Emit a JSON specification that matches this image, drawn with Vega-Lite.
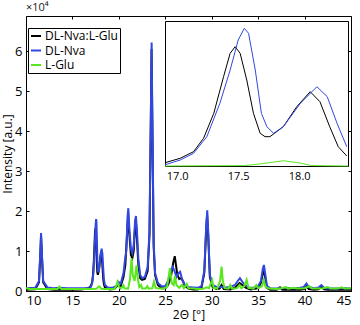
{
"$schema":"https://vega.github.io/schema/vega-lite/v6.json",
"width":325,"height":275,
"autosize":{"type":"none"},
"padding":{"left":26,"top":16,"right":9,"bottom":34},
"title":{"text":"×10⁴","anchor":"start","frame":"group","fontSize":11,"fontWeight":"normal","offset":3,"font":"Open Sans","color":"#222"},
"config":{"view":{"stroke":null},"axis":{"grid":false,"domainColor":"black","tickColor":"black","labelColor":"black","titleColor":"black","labelFont":"Open Sans","titleFont":"Open Sans","labelFontSize":13,"titleFontSize":12,"titleFontWeight":"normal","domainWidth":1,"tickWidth":1},"legend":{"labelFont":"Open Sans"}},
"data":{"values":[
{"s":"DL-Nva:L-Glu","x":10.0,"y":300},{"s":"DL-Nva:L-Glu","x":11.0,"y":400},{"s":"DL-Nva:L-Glu","x":11.4,"y":2200},{"s":"DL-Nva:L-Glu","x":11.55,"y":9500},{"s":"DL-Nva:L-Glu","x":11.62,"y":13800},{"s":"DL-Nva:L-Glu","x":11.7,"y":9500},{"s":"DL-Nva:L-Glu","x":11.85,"y":2200},{"s":"DL-Nva:L-Glu","x":12.3,"y":500},{"s":"DL-Nva:L-Glu","x":13.0,"y":300},{"s":"DL-Nva:L-Glu","x":14.0,"y":300},{"s":"DL-Nva:L-Glu","x":15.0,"y":300},{"s":"DL-Nva:L-Glu","x":16.0,"y":400},{"s":"DL-Nva:L-Glu","x":16.5,"y":600},
{"s":"DL-Nva:L-Glu","x":16.9,"y":920},{"s":"DL-Nva:L-Glu","x":17.025,"y":1480},{"s":"DL-Nva:L-Glu","x":17.134,"y":2315},{"s":"DL-Nva:L-Glu","x":17.216,"y":4015},{"s":"DL-Nva:L-Glu","x":17.3,"y":7190},{"s":"DL-Nva:L-Glu","x":17.38,"y":11830},{"s":"DL-Nva:L-Glu","x":17.434,"y":14800},{"s":"DL-Nva:L-Glu","x":17.475,"y":15640},{"s":"DL-Nva:L-Glu","x":17.516,"y":14800},{"s":"DL-Nva:L-Glu","x":17.57,"y":11414},{"s":"DL-Nva:L-Glu","x":17.625,"y":7190},{"s":"DL-Nva:L-Glu","x":17.68,"y":4650},{"s":"DL-Nva:L-Glu","x":17.72,"y":4220},{"s":"DL-Nva:L-Glu","x":17.76,"y":4220},{"s":"DL-Nva:L-Glu","x":17.87,"y":5490},{"s":"DL-Nva:L-Glu","x":17.98,"y":8025},{"s":"DL-Nva:L-Glu","x":18.09,"y":9930},{"s":"DL-Nva:L-Glu","x":18.17,"y":8660},{"s":"DL-Nva:L-Glu","x":18.25,"y":5490},{"s":"DL-Nva:L-Glu","x":18.32,"y":2950},{"s":"DL-Nva:L-Glu","x":18.39,"y":1770},
{"s":"DL-Nva:L-Glu","x":18.5,"y":900},{"s":"DL-Nva:L-Glu","x":19.0,"y":400},{"s":"DL-Nva:L-Glu","x":19.5,"y":500},{"s":"DL-Nva:L-Glu","x":19.9,"y":1500},{"s":"DL-Nva:L-Glu","x":20.2,"y":1200},{"s":"DL-Nva:L-Glu","x":20.5,"y":3500},{"s":"DL-Nva:L-Glu","x":20.7,"y":6500},{"s":"DL-Nva:L-Glu","x":20.9,"y":15000},{"s":"DL-Nva:L-Glu","x":21.0,"y":19500},{"s":"DL-Nva:L-Glu","x":21.1,"y":15000},{"s":"DL-Nva:L-Glu","x":21.3,"y":9000},{"s":"DL-Nva:L-Glu","x":21.45,"y":8200},{"s":"DL-Nva:L-Glu","x":21.6,"y":10000},{"s":"DL-Nva:L-Glu","x":21.75,"y":16500},{"s":"DL-Nva:L-Glu","x":21.82,"y":18000},{"s":"DL-Nva:L-Glu","x":21.95,"y":13000},{"s":"DL-Nva:L-Glu","x":22.1,"y":6500},{"s":"DL-Nva:L-Glu","x":22.3,"y":3200},{"s":"DL-Nva:L-Glu","x":22.5,"y":2800},{"s":"DL-Nva:L-Glu","x":22.8,"y":3000},{"s":"DL-Nva:L-Glu","x":23.1,"y":5000},{"s":"DL-Nva:L-Glu","x":23.3,"y":14000},{"s":"DL-Nva:L-Glu","x":23.45,"y":44000},{"s":"DL-Nva:L-Glu","x":23.52,"y":60500},{"s":"DL-Nva:L-Glu","x":23.6,"y":43000},{"s":"DL-Nva:L-Glu","x":23.75,"y":11000},{"s":"DL-Nva:L-Glu","x":23.9,"y":4000},{"s":"DL-Nva:L-Glu","x":24.2,"y":1500},{"s":"DL-Nva:L-Glu","x":24.6,"y":700},{"s":"DL-Nva:L-Glu","x":25.0,"y":700},{"s":"DL-Nva:L-Glu","x":25.3,"y":1500},{"s":"DL-Nva:L-Glu","x":25.6,"y":3500},{"s":"DL-Nva:L-Glu","x":25.85,"y":7000},{"s":"DL-Nva:L-Glu","x":26.02,"y":8700},{"s":"DL-Nva:L-Glu","x":26.15,"y":6500},{"s":"DL-Nva:L-Glu","x":26.3,"y":4000},{"s":"DL-Nva:L-Glu","x":26.5,"y":3000},{"s":"DL-Nva:L-Glu","x":26.7,"y":3200},{"s":"DL-Nva:L-Glu","x":26.9,"y":2500},{"s":"DL-Nva:L-Glu","x":27.1,"y":1300},{"s":"DL-Nva:L-Glu","x":27.5,"y":600},{"s":"DL-Nva:L-Glu","x":28.0,"y":400},{"s":"DL-Nva:L-Glu","x":28.5,"y":400},{"s":"DL-Nva:L-Glu","x":28.9,"y":800},{"s":"DL-Nva:L-Glu","x":29.2,"y":4500},{"s":"DL-Nva:L-Glu","x":29.4,"y":15000},{"s":"DL-Nva:L-Glu","x":29.5,"y":19000},{"s":"DL-Nva:L-Glu","x":29.62,"y":14000},{"s":"DL-Nva:L-Glu","x":29.8,"y":3500},{"s":"DL-Nva:L-Glu","x":30.1,"y":1000},{"s":"DL-Nva:L-Glu","x":30.5,"y":500},{"s":"DL-Nva:L-Glu","x":30.85,"y":600},{"s":"DL-Nva:L-Glu","x":31.05,"y":1500},{"s":"DL-Nva:L-Glu","x":31.3,"y":500},{"s":"DL-Nva:L-Glu","x":32.0,"y":400},{"s":"DL-Nva:L-Glu","x":32.5,"y":800},{"s":"DL-Nva:L-Glu","x":33.0,"y":2000},{"s":"DL-Nva:L-Glu","x":33.3,"y":1500},{"s":"DL-Nva:L-Glu","x":33.7,"y":800},{"s":"DL-Nva:L-Glu","x":34.2,"y":400},{"s":"DL-Nva:L-Glu","x":35.0,"y":700},{"s":"DL-Nva:L-Glu","x":35.3,"y":2000},{"s":"DL-Nva:L-Glu","x":35.5,"y":4500},{"s":"DL-Nva:L-Glu","x":35.6,"y":5200},{"s":"DL-Nva:L-Glu","x":35.75,"y":3500},{"s":"DL-Nva:L-Glu","x":35.95,"y":800},{"s":"DL-Nva:L-Glu","x":36.3,"y":300},{"s":"DL-Nva:L-Glu","x":37.0,"y":300},{"s":"DL-Nva:L-Glu","x":37.35,"y":900},{"s":"DL-Nva:L-Glu","x":37.6,"y":300},{"s":"DL-Nva:L-Glu","x":38.5,"y":300},{"s":"DL-Nva:L-Glu","x":39.5,"y":300},{"s":"DL-Nva:L-Glu","x":40.0,"y":500},{"s":"DL-Nva:L-Glu","x":40.2,"y":1200},{"s":"DL-Nva:L-Glu","x":40.45,"y":500},{"s":"DL-Nva:L-Glu","x":41.0,"y":300},{"s":"DL-Nva:L-Glu","x":41.5,"y":400},{"s":"DL-Nva:L-Glu","x":41.8,"y":1100},{"s":"DL-Nva:L-Glu","x":42.1,"y":400},{"s":"DL-Nva:L-Glu","x":42.5,"y":300},{"s":"DL-Nva:L-Glu","x":44.0,"y":300},{"s":"DL-Nva:L-Glu","x":45.0,"y":300},
{"s":"DL-Nva","x":10.0,"y":700},{"s":"DL-Nva","x":11.0,"y":800},{"s":"DL-Nva","x":11.4,"y":2500},{"s":"DL-Nva","x":11.55,"y":10000},{"s":"DL-Nva","x":11.62,"y":14500},{"s":"DL-Nva","x":11.7,"y":10000},{"s":"DL-Nva","x":11.85,"y":2500},{"s":"DL-Nva","x":12.3,"y":900},{"s":"DL-Nva","x":13.0,"y":700},{"s":"DL-Nva","x":13.6,"y":800},{"s":"DL-Nva","x":14.5,"y":700},{"s":"DL-Nva","x":15.5,"y":700},{"s":"DL-Nva","x":16.3,"y":700},
{"s":"DL-Nva","x":16.9,"y":660},{"s":"DL-Nva","x":17.025,"y":1260},{"s":"DL-Nva","x":17.134,"y":2110},{"s":"DL-Nva","x":17.243,"y":4220},{"s":"DL-Nva","x":17.35,"y":8460},{"s":"DL-Nva","x":17.434,"y":12680},{"s":"DL-Nva","x":17.5,"y":16490},{"s":"DL-Nva","x":17.55,"y":17970},{"s":"DL-Nva","x":17.585,"y":17340},{"s":"DL-Nva","x":17.64,"y":12680},{"s":"DL-Nva","x":17.69,"y":7190},{"s":"DL-Nva","x":17.735,"y":5490},{"s":"DL-Nva","x":17.79,"y":4650},{"s":"DL-Nva","x":17.87,"y":5490},{"s":"DL-Nva","x":18.01,"y":8460},{"s":"DL-Nva","x":18.145,"y":10560},{"s":"DL-Nva","x":18.23,"y":9290},{"s":"DL-Nva","x":18.31,"y":5920},{"s":"DL-Nva","x":18.39,"y":2950},
{"s":"DL-Nva","x":18.5,"y":1500},{"s":"DL-Nva","x":18.8,"y":900},{"s":"DL-Nva","x":19.3,"y":800},{"s":"DL-Nva","x":19.7,"y":1200},{"s":"DL-Nva","x":19.94,"y":2300},{"s":"DL-Nva","x":20.2,"y":1800},{"s":"DL-Nva","x":20.5,"y":4500},{"s":"DL-Nva","x":20.66,"y":7800},{"s":"DL-Nva","x":20.8,"y":10000},{"s":"DL-Nva","x":20.95,"y":19000},{"s":"DL-Nva","x":21.02,"y":20700},{"s":"DL-Nva","x":21.12,"y":16000},{"s":"DL-Nva","x":21.3,"y":10500},{"s":"DL-Nva","x":21.45,"y":9500},{"s":"DL-Nva","x":21.6,"y":11500},{"s":"DL-Nva","x":21.75,"y":17500},{"s":"DL-Nva","x":21.84,"y":18750},{"s":"DL-Nva","x":21.95,"y":15000},{"s":"DL-Nva","x":22.1,"y":8000},{"s":"DL-Nva","x":22.3,"y":4000},{"s":"DL-Nva","x":22.5,"y":3200},{"s":"DL-Nva","x":22.8,"y":3500},{"s":"DL-Nva","x":23.1,"y":6000},{"s":"DL-Nva","x":23.3,"y":15000},{"s":"DL-Nva","x":23.45,"y":45000},{"s":"DL-Nva","x":23.53,"y":62100},{"s":"DL-Nva","x":23.6,"y":45000},{"s":"DL-Nva","x":23.75,"y":12000},{"s":"DL-Nva","x":23.9,"y":4500},{"s":"DL-Nva","x":24.2,"y":2000},{"s":"DL-Nva","x":24.6,"y":1200},{"s":"DL-Nva","x":25.0,"y":1200},{"s":"DL-Nva","x":25.3,"y":2500},{"s":"DL-Nva","x":25.6,"y":5000},{"s":"DL-Nva","x":25.8,"y":6000},{"s":"DL-Nva","x":26.0,"y":5000},{"s":"DL-Nva","x":26.2,"y":3500},{"s":"DL-Nva","x":26.45,"y":4500},{"s":"DL-Nva","x":26.6,"y":4800},{"s":"DL-Nva","x":26.8,"y":3000},{"s":"DL-Nva","x":27.1,"y":1500},{"s":"DL-Nva","x":27.5,"y":1000},{"s":"DL-Nva","x":28.0,"y":900},{"s":"DL-Nva","x":28.5,"y":800},{"s":"DL-Nva","x":28.9,"y":1200},{"s":"DL-Nva","x":29.2,"y":5000},{"s":"DL-Nva","x":29.4,"y":16000},{"s":"DL-Nva","x":29.52,"y":20200},{"s":"DL-Nva","x":29.62,"y":15000},{"s":"DL-Nva","x":29.8,"y":4000},{"s":"DL-Nva","x":30.1,"y":1500},{"s":"DL-Nva","x":30.5,"y":1000},{"s":"DL-Nva","x":31.0,"y":1000},{"s":"DL-Nva","x":31.5,"y":900},{"s":"DL-Nva","x":32.0,"y":1000},{"s":"DL-Nva","x":32.5,"y":1500},{"s":"DL-Nva","x":32.8,"y":2500},{"s":"DL-Nva","x":33.04,"y":3200},{"s":"DL-Nva","x":33.3,"y":2300},{"s":"DL-Nva","x":33.6,"y":1500},{"s":"DL-Nva","x":34.0,"y":900},{"s":"DL-Nva","x":34.5,"y":800},{"s":"DL-Nva","x":35.0,"y":1200},{"s":"DL-Nva","x":35.3,"y":2500},{"s":"DL-Nva","x":35.5,"y":5500},{"s":"DL-Nva","x":35.62,"y":6500},{"s":"DL-Nva","x":35.75,"y":4500},{"s":"DL-Nva","x":35.95,"y":1200},{"s":"DL-Nva","x":36.3,"y":700},{"s":"DL-Nva","x":37.0,"y":600},{"s":"DL-Nva","x":37.5,"y":700},{"s":"DL-Nva","x":38.0,"y":800},{"s":"DL-Nva","x":38.5,"y":700},{"s":"DL-Nva","x":39.0,"y":700},{"s":"DL-Nva","x":39.5,"y":800},{"s":"DL-Nva","x":39.9,"y":1000},{"s":"DL-Nva","x":40.2,"y":1900},{"s":"DL-Nva","x":40.45,"y":1000},{"s":"DL-Nva","x":41.0,"y":700},{"s":"DL-Nva","x":41.5,"y":900},{"s":"DL-Nva","x":41.8,"y":1500},{"s":"DL-Nva","x":42.1,"y":800},{"s":"DL-Nva","x":42.5,"y":600},{"s":"DL-Nva","x":43.5,"y":600},{"s":"DL-Nva","x":44.0,"y":700},{"s":"DL-Nva","x":44.5,"y":700},{"s":"DL-Nva","x":45.0,"y":600},
{"s":"L-Glu","x":10.0,"y":800},{"s":"L-Glu","x":10.3,"y":500},{"s":"L-Glu","x":12.0,"y":500},{"s":"L-Glu","x":13.4,"y":500},{"s":"L-Glu","x":13.6,"y":1100},{"s":"L-Glu","x":13.8,"y":500},{"s":"L-Glu","x":15.0,"y":500},{"s":"L-Glu","x":16.9,"y":500},{"s":"L-Glu","x":17.55,"y":550},{"s":"L-Glu","x":17.7,"y":800},{"s":"L-Glu","x":17.87,"y":1170},{"s":"L-Glu","x":18.0,"y":900},{"s":"L-Glu","x":18.1,"y":550},{"s":"L-Glu","x":18.4,"y":500},{"s":"L-Glu","x":19.5,"y":500},{"s":"L-Glu","x":19.7,"y":1200},{"s":"L-Glu","x":19.85,"y":2300},{"s":"L-Glu","x":20.0,"y":1200},{"s":"L-Glu","x":20.2,"y":600},{"s":"L-Glu","x":20.4,"y":1000},{"s":"L-Glu","x":20.5,"y":1400},{"s":"L-Glu","x":20.6,"y":700},{"s":"L-Glu","x":21.0,"y":600},{"s":"L-Glu","x":21.2,"y":3000},{"s":"L-Glu","x":21.37,"y":8200},{"s":"L-Glu","x":21.5,"y":4000},{"s":"L-Glu","x":21.7,"y":2500},{"s":"L-Glu","x":21.9,"y":6400},{"s":"L-Glu","x":22.05,"y":3000},{"s":"L-Glu","x":22.2,"y":1000},{"s":"L-Glu","x":22.4,"y":1500},{"s":"L-Glu","x":22.5,"y":600},{"s":"L-Glu","x":22.9,"y":600},{"s":"L-Glu","x":23.06,"y":1200},{"s":"L-Glu","x":23.2,"y":600},{"s":"L-Glu","x":23.6,"y":700},{"s":"L-Glu","x":23.78,"y":2300},{"s":"L-Glu","x":23.95,"y":800},{"s":"L-Glu","x":24.3,"y":600},{"s":"L-Glu","x":24.8,"y":600},{"s":"L-Glu","x":25.2,"y":1000},{"s":"L-Glu","x":25.5,"y":5700},{"s":"L-Glu","x":25.7,"y":2000},{"s":"L-Glu","x":25.9,"y":1500},{"s":"L-Glu","x":26.04,"y":3800},{"s":"L-Glu","x":26.2,"y":1500},{"s":"L-Glu","x":26.5,"y":800},{"s":"L-Glu","x":26.8,"y":1500},{"s":"L-Glu","x":27.0,"y":700},{"s":"L-Glu","x":27.3,"y":1800},{"s":"L-Glu","x":27.5,"y":700},{"s":"L-Glu","x":28.0,"y":600},{"s":"L-Glu","x":28.5,"y":500},{"s":"L-Glu","x":29.0,"y":500},{"s":"L-Glu","x":29.5,"y":900},{"s":"L-Glu","x":29.7,"y":700},{"s":"L-Glu","x":30.05,"y":2700},{"s":"L-Glu","x":30.2,"y":800},{"s":"L-Glu","x":30.6,"y":600},{"s":"L-Glu","x":30.9,"y":2500},{"s":"L-Glu","x":31.06,"y":6100},{"s":"L-Glu","x":31.2,"y":2500},{"s":"L-Glu","x":31.4,"y":700},{"s":"L-Glu","x":31.8,"y":600},{"s":"L-Glu","x":32.0,"y":1500},{"s":"L-Glu","x":32.2,"y":600},{"s":"L-Glu","x":32.7,"y":700},{"s":"L-Glu","x":33.0,"y":1500},{"s":"L-Glu","x":33.2,"y":700},{"s":"L-Glu","x":33.5,"y":1200},{"s":"L-Glu","x":33.76,"y":2800},{"s":"L-Glu","x":33.95,"y":800},{"s":"L-Glu","x":34.5,"y":600},{"s":"L-Glu","x":34.8,"y":1500},{"s":"L-Glu","x":35.0,"y":700},{"s":"L-Glu","x":35.4,"y":1200},{"s":"L-Glu","x":35.6,"y":2700},{"s":"L-Glu","x":35.8,"y":1000},{"s":"L-Glu","x":36.2,"y":600},{"s":"L-Glu","x":37.0,"y":500},{"s":"L-Glu","x":37.5,"y":700},{"s":"L-Glu","x":38.0,"y":1000},{"s":"L-Glu","x":38.2,"y":600},{"s":"L-Glu","x":38.8,"y":800},{"s":"L-Glu","x":39.2,"y":600},{"s":"L-Glu","x":40.0,"y":700},{"s":"L-Glu","x":40.5,"y":1200},{"s":"L-Glu","x":40.8,"y":600},{"s":"L-Glu","x":41.5,"y":600},{"s":"L-Glu","x":42.0,"y":700},{"s":"L-Glu","x":42.5,"y":1000},{"s":"L-Glu","x":42.8,"y":600},{"s":"L-Glu","x":43.5,"y":600},{"s":"L-Glu","x":44.0,"y":900},{"s":"L-Glu","x":44.3,"y":600},{"s":"L-Glu","x":45.0,"y":700}
]},
"layer":[
 {
  "encoding":{
   "x":{"field":"x","type":"quantitative","scale":{"domain":[10,45],"nice":false,"zero":false},"axis":{"values":[10,15,20,25,30,35,40,45],"tickSize":-3,"labelPadding":6,"title":"2Θ [°]","titlePadding":2}},
   "y":{"field":"y","type":"quantitative","scale":{"domain":[0,68750],"nice":false},"axis":{"values":[0,10000,20000,30000,40000,50000,60000],"labelExpr":"datum.value/10000","tickSize":-3,"labelPadding":7,"title":"Intensity [a.u.]","titlePadding":0}},
   "color":{"field":"s","type":"nominal","scale":{"domain":["DL-Nva:L-Glu","DL-Nva","L-Glu"],"range":["#000000","#3048e0","#5ae61e"]},
     "legend":{"title":null,"orient":"none","legendX":2,"legendY":12,"symbolType":"stroke","symbolSize":100,"symbolStrokeWidth":2,"labelFontSize":12,"labelOffset":3,"rowPadding":2.5,"padding":2,"strokeColor":"black","fillColor":"white","labelExpr":"datum.label === 'DL-Nva:L-Glu' ? datum.label + '\u00a0\u00a0\u00a0\u00a0\u00a0\u00a0\u00a0\u00a0' : datum.label"}}
  },
  "layer":[
   {"transform":[{"filter":"datum.s === 'DL-Nva:L-Glu'"}],"mark":{"type":"line","strokeWidth":2}},
   {"transform":[{"filter":"datum.s === 'DL-Nva'"}],"mark":{"type":"line","strokeWidth":2}},
   {"transform":[{"filter":"datum.s === 'L-Glu'"}],"mark":{"type":"line","strokeWidth":2}}
  ]
 },
 {
  "mark":{"type":"line","opacity":0},
  "encoding":{
   "x":{"field":"x","type":"quantitative","scale":{"domain":[10,45],"nice":false,"zero":false},"axis":{"orient":"top","values":[10,15,20,25,30,35,40,45],"tickSize":-3,"labels":false,"title":null}},
   "y":{"field":"y","type":"quantitative","scale":{"domain":[0,68750],"nice":false},"axis":{"orient":"right","values":[0,10000,20000,30000,40000,50000,60000],"tickSize":-3,"labels":false,"title":null}}
  }
 },
 {
  "transform":[{"filter":"datum.x >= 16.89 && datum.x <= 18.41"}],
  "layer":[
   {"transform":[{"filter":"datum.s === 'DL-Nva:L-Glu'"}],"mark":{"type":"line","strokeWidth":1,"color":"#000000","clip":true},
    "encoding":{
     "x":{"field":"x","type":"quantitative","scale":{"domain":[16.9,18.4],"range":[139,322],"nice":false,"zero":false},"axis":{"orient":"bottom","offset":-125,"values":[17,17.5,18],"ticks":false,"labelPadding":4,"labelFontSize":11,"title":null}},
     "y":{"field":"y","type":"quantitative","scale":{"domain":[500,18900],"range":[150,5],"nice":false,"zero":false},"axis":{"orient":"left","offset":-139,"ticks":false,"labels":false,"title":null}}
    }},
   {"transform":[{"filter":"datum.s === 'DL-Nva'"}],"mark":{"type":"line","strokeWidth":1,"color":"#3048e0","clip":true},
    "encoding":{
     "x":{"field":"x","type":"quantitative","scale":{"domain":[16.9,18.4],"range":[139,322],"nice":false,"zero":false},"axis":{"orient":"top","offset":-5,"ticks":false,"labels":false,"title":null}},
     "y":{"field":"y","type":"quantitative","scale":{"domain":[500,18900],"range":[150,5],"nice":false,"zero":false},"axis":{"orient":"right","offset":-3,"ticks":false,"labels":false,"title":null}}
    }},
   {"transform":[{"filter":"datum.s === 'L-Glu'"}],"mark":{"type":"line","strokeWidth":1,"color":"#5ae61e","clip":true},
    "encoding":{
     "x":{"field":"x","type":"quantitative","scale":{"domain":[16.9,18.4],"range":[139,322],"nice":false,"zero":false},"axis":null},
     "y":{"field":"y","type":"quantitative","scale":{"domain":[500,18900],"range":[150,5],"nice":false,"zero":false},"axis":null}
    }}
  ],
  "resolve":{"axis":{"x":"independent","y":"independent"}}
 }
],
"resolve":{"scale":{"x":"independent","y":"independent"},"axis":{"x":"independent","y":"independent"}}
}
